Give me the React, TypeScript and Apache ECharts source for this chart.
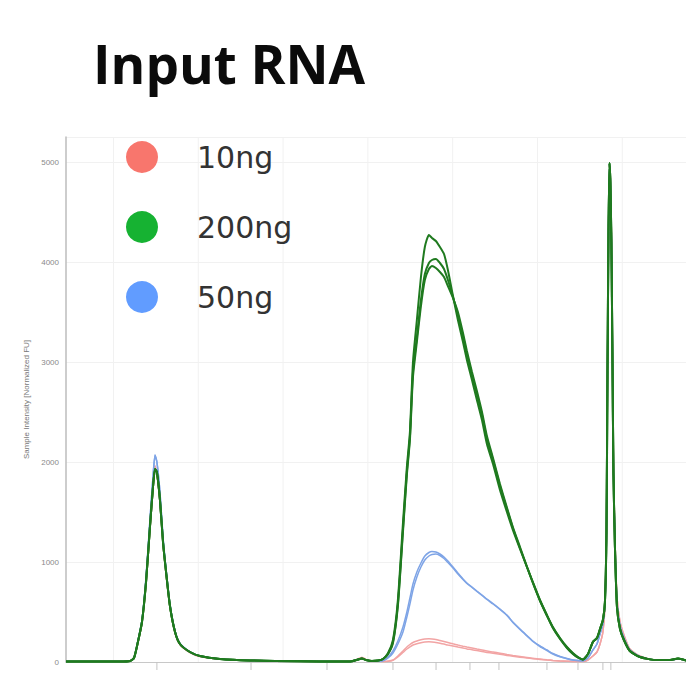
import React, { useEffect, useRef } from "react";
import * as echarts from "echarts";

// Migration time (s) of each sampled point
const timeS = [
  17.2, 19.2, 20.38, 20.97, 21.21, 21.44, 21.68, 21.92, 22.15, 22.33,
  22.45, 22.56, 22.74, 22.92, 23.1, 23.33, 23.63, 23.92, 24.51, 25.1,
  26.28, 28.05, 31.0, 33.36, 34.06, 34.42, 34.65, 34.89, 35.24, 35.6,
  35.89, 36.19, 36.48, 36.77, 37.07, 37.3, 37.48, 37.66, 37.89, 38.13,
  38.36, 38.6, 38.78, 39.01, 39.25, 39.49, 39.72, 40.02, 40.31, 40.61,
  40.84, 41.14, 41.43, 41.73, 42.02, 42.38, 42.79, 43.2, 43.55, 43.97,
  44.38, 44.73, 45.15, 45.56, 45.91, 46.33, 46.74, 47.09, 47.39, 47.68,
  47.98, 48.27, 48.51, 48.69, 48.86, 48.98, 49.07, 49.13, 49.19, 49.25,
  49.3, 49.36, 49.42, 49.48, 49.57, 49.69, 49.87, 50.1, 50.45, 51.04,
  51.93, 52.82, 53.29, 53.76,
];

// Lower marker + early region (first 30 points)
const leftGreen = [5, 5, 5, 10, 40, 200, 400, 800, 1350, 1750, 1930, 1900, 1620, 1200, 900, 560, 300, 180, 100, 60, 30, 15, 8, 5, 8, 25, 35, 20, 10, 15];
const leftBlue = [5, 5, 5, 10, 40, 210, 420, 850, 1420, 1850, 2070, 2000, 1700, 1250, 930, 580, 310, 185, 100, 60, 30, 15, 8, 5, 8, 25, 35, 20, 10, 10];
const leftRed = [5, 5, 5, 10, 40, 190, 390, 780, 1320, 1720, 1960, 1880, 1600, 1180, 880, 550, 290, 175, 95, 55, 30, 15, 8, 5, 10, 30, 45, 25, 10, 8];

// Main RNA peak (next 40 points), one array per replicate
const main200A = [30, 90, 220, 620, 1390, 1950, 2300, 3000, 3420, 3850, 4150, 4270, 4240, 4210, 4150, 4080, 3920, 3660, 3420, 3200, 3020, 2820, 2620, 2420, 2180, 1980, 1720, 1500, 1320, 1130, 950, 800, 620, 470, 350, 240, 150, 90, 50, 25];
const main200B = [30, 80, 200, 580, 1330, 1900, 2250, 2900, 3250, 3620, 3880, 3990, 4020, 4030, 3990, 3930, 3820, 3650, 3470, 3260, 3080, 2870, 2680, 2470, 2230, 2020, 1760, 1530, 1340, 1140, 950, 795, 615, 465, 345, 235, 145, 85, 45, 25];
const main200C = [30, 80, 190, 560, 1300, 1870, 2220, 2850, 3200, 3560, 3820, 3930, 3960, 3940, 3900, 3850, 3760, 3640, 3500, 3290, 3110, 2900, 2710, 2500, 2260, 2040, 1780, 1545, 1350, 1150, 955, 790, 612, 462, 340, 230, 140, 80, 45, 25];
const main50A = [15, 50, 110, 210, 350, 500, 640, 780, 900, 990, 1060, 1095, 1105, 1100, 1080, 1050, 1010, 950, 890, 830, 790, 750, 710, 670, 630, 585, 530, 470, 400, 330, 265, 210, 160, 120, 85, 55, 35, 20, 15, 12];
const main50B = [12, 40, 90, 180, 300, 450, 580, 720, 850, 950, 1020, 1060, 1075, 1080, 1065, 1035, 995, 940, 880, 825, 785, 745, 705, 665, 625, 580, 525, 465, 395, 325, 260, 205, 155, 115, 80, 52, 33, 19, 14, 12];
const main10A = [5, 8, 20, 60, 110, 150, 175, 195, 210, 222, 230, 232, 230, 225, 215, 205, 195, 182, 170, 158, 150, 140, 130, 120, 110, 100, 88, 75, 65, 55, 45, 37, 30, 22, 16, 11, 8, 6, 5, 5];
const main10B = [5, 7, 16, 50, 95, 130, 152, 170, 183, 193, 200, 202, 200, 196, 188, 179, 170, 160, 149, 139, 131, 123, 114, 105, 96, 87, 77, 66, 57, 48, 40, 33, 26, 19, 14, 10, 7, 5, 5, 5];

// Upper marker region (last 24 points)
const rightGreen = [80, 200, 240, 330, 420, 600, 1300, 2900, 4300, 4990, 4800, 4200, 3100, 1900, 1150, 550, 330, 220, 110, 50, 20, 20, 35, 15];
const rightBlue = [40, 120, 180, 280, 380, 580, 1280, 2880, 4280, 4980, 4820, 4250, 3150, 1950, 1200, 600, 360, 240, 120, 55, 20, 20, 30, 15];
const rightRed = [20, 60, 100, 180, 300, 560, 1260, 2860, 4260, 4970, 4840, 4300, 3200, 2000, 1250, 650, 400, 270, 130, 60, 20, 20, 30, 15];

const groups = ["10ng", "200ng", "50ng"];
const legendColors = ["#F8766D", "#16B232", "#619CFF"];
const yTicks = [0, 1000, 2000, 3000, 4000, 5000];
const gridTimes = [20, 25, 30, 35, 40, 45, 50];
const ladderTimes = [22.56, 28.11, 32.59, 36.48, 39.02, 41.02, 42.73, 45.56, 47.39, 48.86, 49.33];

const pair = (ys: number[]) => ys.map((y, i) => [timeS[i], y]);

export default function App() {
  const ref = useRef<HTMLDivElement>(null);
  useEffect(() => {
    if (!ref.current) return;
    const chart = echarts.init(ref.current, null, { renderer: "svg" });
    const lineSeries = (name: string, ys: number[], color: string, width: number) => ({
      type: "line",
      name,
      data: pair(ys),
      showSymbol: false,
      symbol: "none",
      smooth: 0.2,
      lineStyle: { color, width },
      itemStyle: { color },
      z: 3,
    });
    const red = "#f2a4a4";
    const blue = "#7ea4e6";
    const green = "#1f7a1f";
    chart.setOption({
      animation: false,
      backgroundColor: "#ffffff",
      title: {
        text: "Input RNA",
        left: 93,
        top: 37,
        padding: 0,
        textStyle: {
          fontFamily: "Open Sans",
          fontWeight: "bold",
          fontSize: 53,
          color: "#0b0b0b",
        },
      },
      legend: {
        orient: "vertical",
        left: 121,
        top: 136,
        itemWidth: 32,
        itemHeight: 32,
        itemGap: 38,
        icon: "circle",
        data: groups.map((g, i) => ({ name: g, itemStyle: { color: legendColors[i] } })),
        textStyle: {
          fontFamily: "DejaVu Sans",
          fontSize: 30,
          color: "#333333",
          padding: [0, 0, 0, 34],
        },
        selectedMode: false,
      },
      grid: { left: 66, right: 0, top: 137, bottom: 11, containLabel: false },
      xAxis: {
        type: "value",
        min: timeS[0],
        max: timeS[timeS.length - 1],
        axisLine: { show: true, lineStyle: { color: "#c8c8c8", width: 1 } },
        axisTick: { show: false },
        axisLabel: { show: false },
        splitLine: { show: false },
      },
      yAxis: {
        type: "value",
        min: yTicks[0],
        max: 5250,
        interval: 1000,
        name: "Sample Intensity [Normalized FU]",
        nameLocation: "middle",
        nameGap: 34,
        nameTextStyle: { fontFamily: "Liberation Sans", fontSize: 8, color: "#777777" },
        axisLine: { show: true, lineStyle: { color: "#bdbdbd", width: 1.5 } },
        axisTick: { show: false },
        axisLabel: {
          showMaxLabel: false,
          formatter: (v: number) => String(v),
          fontFamily: "Liberation Sans",
          fontSize: 8,
          color: "#8a8a8a",
          margin: 7,
        },
        splitLine: { show: true, lineStyle: { color: "#f1f1f1", width: 1 } },
      },
      series: [
        {
          type: "custom",
          name: "grid",
          z: 1,
          silent: true,
          data: gridTimes.map((t) => [t, 0]),
          renderItem: (params: any, api: any) => {
            const a = api.coord([api.value(0), 0]);
            const b = api.coord([api.value(0), 5250]);
            return {
              type: "line",
              shape: { x1: a[0], y1: a[1], x2: b[0], y2: b[1] },
              style: { stroke: "#f1f1f1", lineWidth: 1 },
            };
          },
        },
        {
          type: "custom",
          name: "ladder",
          z: 1,
          silent: true,
          clip: false,
          data: ladderTimes.map((t) => [t, 0]),
          renderItem: (params: any, api: any) => {
            const a = api.coord([api.value(0), 0]);
            return {
              type: "line",
              shape: { x1: a[0], y1: a[1], x2: a[0], y2: a[1] + 8 },
              style: { stroke: "#c4c4c4", lineWidth: 1 },
            };
          },
        },
        lineSeries("10ng", [...leftRed, ...main10A, ...rightRed], red, 1.5),
        lineSeries("10ng", [...leftRed, ...main10B, ...rightRed], red, 1.5),
        lineSeries("50ng", [...leftBlue, ...main50A, ...rightBlue], blue, 1.5),
        lineSeries("50ng", [...leftBlue, ...main50B, ...rightBlue], blue, 1.5),
        lineSeries("200ng", [...leftGreen, ...main200A, ...rightGreen], green, 2),
        lineSeries("200ng", [...leftGreen, ...main200B, ...rightGreen], green, 2),
        lineSeries("200ng", [...leftGreen, ...main200C, ...rightGreen], green, 2),
      ],
    });
    return () => chart.dispose();
  }, []);
  return (
    <div
      ref={ref}
      style={{ position: "absolute", left: 0, top: 0, width: 686, height: 673, background: "#fff" }}
    />
  );
}
